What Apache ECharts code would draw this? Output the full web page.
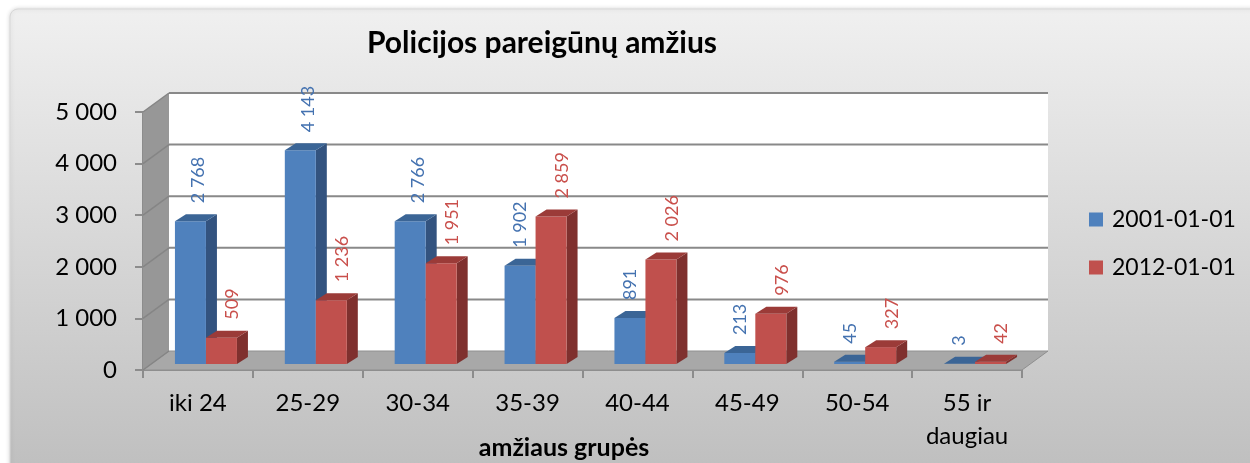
<!DOCTYPE html>
<html>
<head>
<meta charset="utf-8">
<script src="https://cdn.jsdelivr.net/npm/echarts@6/dist/echarts.min.js"></script>
<style>
  html, body { margin: 0; padding: 0; background: #fff; }
  #chart { width: 1250px; height: 463px; }
</style>
</head>
<body>
<div id="chart"></div>
<script>
// amžiaus grupės
const categories = ["iki 24", "25-29", "30-34", "35-39", "40-44", "45-49", "50-54", "55 ir\ndaugiau"];
const values2001 = [2768, 4143, 2766, 1902, 891, 213, 45, 3];
const values2012 = [509, 1236, 1951, 2859, 2026, 976, 327, 42];
const yTicks = [0, 1000, 2000, 3000, 4000, 5000];

const FONT = "Lato, 'Open Sans', sans-serif";
const WALL = [26, -19];      // front -> back wall offset
const MID = [8, -6];         // front plane of bars
const DEPTH = [11, -7];      // bar depth
const BAR_W = 31;

function fmt(v) {
  return String(v).replace(/\B(?=(\d{3})+(?!\d))/g, " ");
}

const chart = echarts.init(document.getElementById("chart"));

function renderWalls(params, api) {
  const cs = params.coordSys;
  const x0 = cs.x, x1 = cs.x + cs.width;
  const yTop = cs.y, yBot = cs.y + cs.height;
  const dx = WALL[0], dy = WALL[1];
  const children = [];
  // left wall
  children.push({
    type: "polygon",
    shape: { points: [[x0, yTop], [x0 + dx, yTop + dy], [x0 + dx, yBot + dy], [x0, yBot]] },
    style: { fill: "#979797" }
  });
  // back wall
  children.push({
    type: "rect",
    shape: { x: x0 + dx, y: yTop + dy, width: cs.width, height: cs.height },
    style: { fill: "#ffffff" }
  });
  // floor
  children.push({
    type: "polygon",
    shape: { points: [[x0, yBot], [x1, yBot], [x1 + dx, yBot + dy], [x0 + dx, yBot + dy]] },
    style: { fill: "#a8a8a8", stroke: "#8f8f8f", lineWidth: 1 }
  });
  // gridlines on back and side wall
  yTicks.forEach(function (t) {
    const y = api.coord([0, t])[1];
    if (t > 0) {
      children.push({
        type: "line",
        shape: { x1: x0 + dx, y1: y + dy, x2: x1 + dx, y2: y + dy },
        style: { stroke: "#898989", lineWidth: 2 }
      });
    }
    children.push({
      type: "line",
      shape: { x1: x0, y1: y, x2: x0 + dx, y2: y + dy },
      style: { stroke: "#858585", lineWidth: 1.5 }
    });
  });
  return { type: "group", children: children };
}

// side 0 = left bar of the pair, 1 = right bar
function makeBarRenderer(side, colors) {
  return function (params, api) {
    const idx = api.value(0);
    const val = api.value(1);
    const base = api.coord([idx, 0]);
    const top = api.coord([idx, val]);
    const xl = base[0] + (side === 0 ? -BAR_W : 0) + MID[0];
    const xr = xl + BAR_W;
    const yb = base[1] + MID[1];
    const yt = top[1] + MID[1];
    const dx = DEPTH[0], dy = DEPTH[1];
    // left label hugs its bar when the right neighbour is taller
    let labelShift = 11;
    if (side === 0 && values2012[idx] > val) labelShift = 0;
    else if (side === 0) labelShift = 8;
    return {
      type: "group",
      children: [
        {
          type: "polygon",
          shape: { points: [[xr, yt], [xr + dx, yt + dy], [xr + dx, yb + dy], [xr, yb]] },
          style: { fill: colors.side }
        },
        {
          type: "rect",
          shape: { x: xl, y: yt, width: BAR_W, height: yb - yt },
          style: { fill: colors.front }
        },
        {
          type: "polygon",
          shape: { points: [[xl, yt], [xr, yt], [xr + dx, yt + dy], [xl + dx, yt + dy]] },
          style: { fill: colors.top }
        },
        {
          type: "text",
          x: (xl + xr) / 2 + labelShift,
          y: yt + dy - 11,
          rotation: Math.PI / 2,
          style: {
            text: fmt(val),
            fill: colors.label,
            font: "18px " + FONT,
            align: "left",
            verticalAlign: "middle"
          }
        }
      ]
    };
  };
}

const option = {
  backgroundColor: "#ffffff",
  animation: false,
  graphic: [
    {
      type: "rect",
      z: -10,
      shape: { x: 10, y: 9, width: 1260, height: 480, r: 8 },
      style: {
        fill: new echarts.graphic.LinearGradient(0, 0, 0, 1, [
          { offset: 0, color: "#f0f0f0" },
          { offset: 1, color: "#bdbdbd" }
        ]),
        stroke: "#d8d8d8",
        lineWidth: 1,
        shadowBlur: 4,
        shadowColor: "rgba(0,0,0,0.15)"
      }
    }
  ],
  title: {
    text: "Policijos pareigūnų amžius",
    left: 537,
    textAlign: "center",
    top: 23,
    textStyle: { fontFamily: FONT, fontSize: 30, fontWeight: "bold", color: "#000" }
  },
  legend: {
    orient: "vertical",
    left: 1084,
    top: 203,
    itemWidth: 14,
    itemHeight: 14,
    itemGap: 25,
    icon: "rect",
    textStyle: { fontFamily: FONT, fontSize: 23, color: "#000", padding: [0, 0, 0, 4] },
    data: ["2001-01-01", "2012-01-01"]
  },
  grid: { left: 143, right: 228, top: 112, bottom: 93, outerBoundsMode: "none", containLabel: false },
  xAxis: {
    type: "category",
    data: categories,
    name: "amžiaus grupės",
    nameLocation: "middle",
    nameGap: 65,
    nameMoveOverlap: false,
    nameTextStyle: { fontFamily: FONT, fontSize: 25, fontWeight: "bold", color: "#000", padding: [0, 37, 0, 0] },
    axisLine: { lineStyle: { color: "#8c8c8c", width: 2 } },
    axisTick: { show: true, length: 8, lineStyle: { color: "#8c8c8c", width: 2 } },
    axisLabel: { fontFamily: FONT, fontSize: 24, color: "#000", margin: 17, lineHeight: 33, interval: 0 }
  },
  yAxis: {
    type: "value",
    min: 0,
    max: 5000,
    interval: 1000,
    axisLine: { show: true, lineStyle: { color: "#8c8c8c", width: 2 } },
    axisTick: { show: true, length: 8, lineStyle: { color: "#8c8c8c", width: 2 } },
    splitLine: { show: false },
    axisLabel: { fontFamily: FONT, fontSize: 24, color: "#000", margin: 26, formatter: fmt }
  },
  series: [
    { type: "custom", name: "walls", silent: true, z: 1, renderItem: renderWalls, data: [[0, 0]] },
    {
      type: "custom",
      name: "2001-01-01",
      z: 3,
      itemStyle: { color: "#4f81bd" },
      renderItem: makeBarRenderer(0, { front: "#4f81bd", top: "#3b6596", side: "#33537f", label: "#4472b0" }),
      data: values2001.map(function (v, i) { return [i, v]; })
    },
    {
      type: "custom",
      name: "2012-01-01",
      z: 4,
      itemStyle: { color: "#c0504d" },
      renderItem: makeBarRenderer(1, { front: "#c0504d", top: "#9b3b38", side: "#7f302e", label: "#c94f4b" }),
      data: values2012.map(function (v, i) { return [i, v]; })
    }
  ]
};

chart.setOption(option);
</script>
</body>
</html>
